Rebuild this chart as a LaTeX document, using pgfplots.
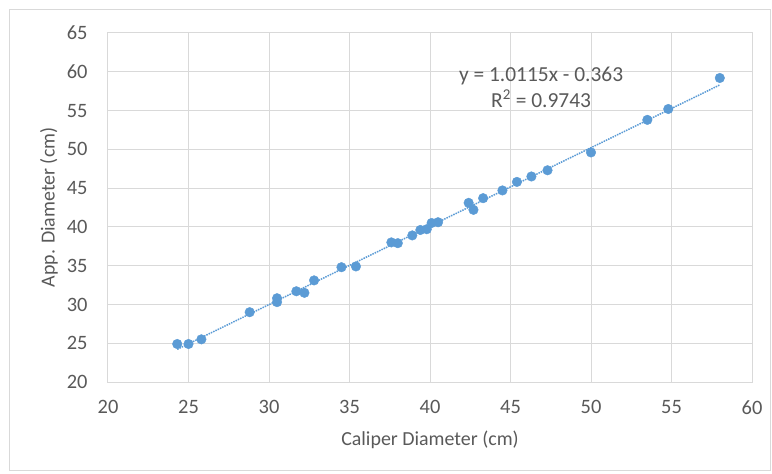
\documentclass[border=0pt]{standalone}
\usepackage{pgfplots}
\pgfplotsset{compat=1.18}
\usepackage{fontspec}
\setmainfont{Carlito}
\definecolor{pt}{HTML}{5B9BD5}
\definecolor{txt}{HTML}{595959}
\definecolor{grd}{HTML}{D9D9D9}
\begin{document}
\begin{tikzpicture}[x=1bp,y=1bp]
\path (-108bp,-92bp) rectangle (664bp,382bp);
\draw[grd, line width=1bp] (-98bp,-88bp) rectangle (662bp,372bp);
\begin{axis}[
  at={(0,0)}, anchor=south west,
  scale only axis, width=644bp, height=349bp,
  xmin=20, xmax=60, ymin=20, ymax=65,
  xtick={20,25,...,60}, ytick={20,25,...,65},
  grid=major, major grid style={grd, line width=1bp},
  axis line style={grd, line width=1bp},
  tick style={draw=none},
  /pgf/number format/assume math mode=true,
  ticklabel style={font=\fontsize{20.5}{22}\selectfont, text=txt},
  xticklabel style={yshift=-15bp},
  yticklabel style={xshift=-17bp},
  xlabel={Caliper Diameter (cm)}, ylabel={App. Diameter (cm)},
  label style={font=\fontsize{20}{22}\selectfont, text=txt},
  xlabel style={yshift=-10bp},
  ylabel style={yshift=2bp},
  clip=false,
]
\addplot[pt, densely dotted, line width=1.5bp] coordinates {(24.3,24.216) (58.0,58.304)};
\addplot[only marks, mark=*, mark size=4.8bp, mark options={draw=pt, fill=pt}] coordinates {
(24.3,24.9) (25.0,24.9) (25.8,25.5) (28.8,29.0) (30.5,30.8) (30.5,30.3)
(31.7,31.7) (32.2,31.5) (32.8,33.1) (34.5,34.8) (35.4,34.9) (37.6,38.0)
(38.0,37.9) (38.9,38.9) (39.4,39.6) (39.8,39.7) (40.1,40.5) (40.5,40.6)
(42.4,43.1) (42.7,42.2) (43.3,43.7) (44.5,44.7) (45.4,45.8) (46.3,46.5)
(47.3,47.3) (50.0,49.6) (53.5,53.8) (54.8,55.2) (58.0,59.2)
};
\node[text=txt, font=\fontsize{21.5}{26}\selectfont, align=center] at (axis cs:46.9,58.0) {y = 1.0115x - 0.363\\R\textsuperscript{2} = 0.9743};
\end{axis}
\end{tikzpicture}
\end{document}
